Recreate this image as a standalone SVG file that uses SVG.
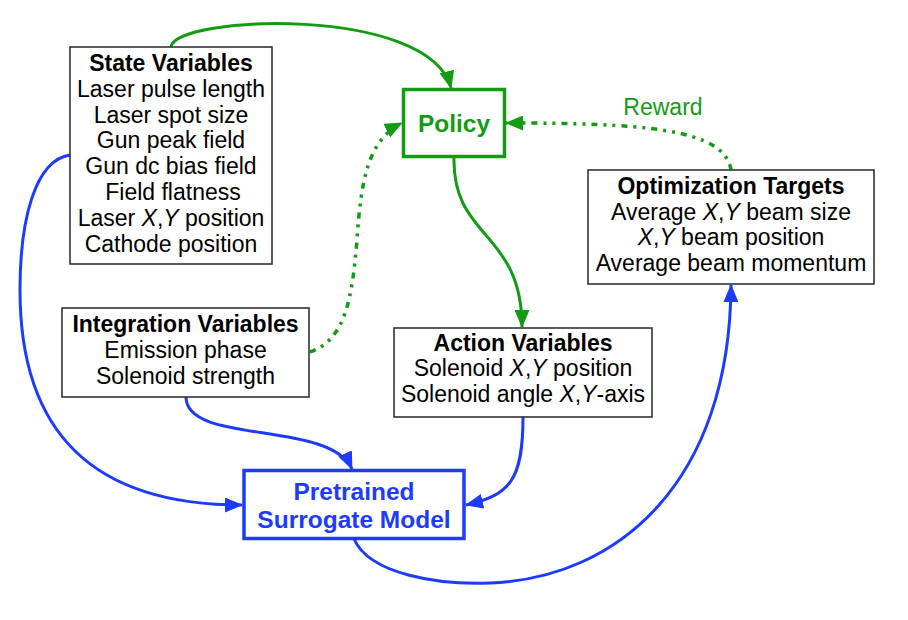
<svg xmlns="http://www.w3.org/2000/svg" width="908" height="620" viewBox="0 0 908 620">
<style>
text{font-family:"Liberation Sans",Arial,sans-serif;font-size:23px;fill:#000;text-anchor:middle}
.t{font-weight:bold}
.i{font-style:italic}
.box{fill:#fff;stroke:#333;stroke-width:1.6}
.g{fill:none;stroke:#139c13;stroke-width:3}
.b{fill:none;stroke:#1c3bff;stroke-width:3}
.dot{stroke-dasharray:6 6 3 6 3 6;stroke-width:3.5}
</style>
<defs>
<marker id="ag" markerUnits="userSpaceOnUse" markerWidth="18" markerHeight="15" viewBox="0 0 18 15" refX="17" refY="7.5" orient="auto"><path d="M0,0 L18,7.5 L0,15 z" fill="#139c13"/></marker>
<marker id="ab" markerUnits="userSpaceOnUse" markerWidth="18" markerHeight="15" viewBox="0 0 18 15" refX="17" refY="7.5" orient="auto"><path d="M0,0 L18,7.5 L0,15 z" fill="#1c3bff"/></marker>
</defs>
<rect width="908" height="620" fill="#fff"/>
<g id="connectors">
<path class="g" d="M171,47 C175,15 430,5 451,88" marker-end="url(#ag)"/>
<path class="g dot" d="M310,352 C345,340 352,300 357,240 C361,180 368,140 402,123" marker-end="url(#ag)"/>
<path class="g dot" d="M731,170 C725,128 640,123 506,123" marker-end="url(#ag)"/>
<path class="g" d="M454,157 C452,240 522,230 522,327" marker-end="url(#ag)"/>
<path class="b" d="M70,155 C35,160 20,220 20,290 C20,430 90,505 242,505" marker-end="url(#ab)"/>
<path class="b" d="M186,397 C186,445 330,420 352,469" marker-end="url(#ab)"/>
<path class="b" d="M523,417 C523,480 510,495 466,505" marker-end="url(#ab)"/>
<path class="b" d="M354,539 C370,575 440,585 490,583 C620,578 730,480 731,285" marker-end="url(#ab)"/>
<text x="663" y="115" style="fill:#139c13">Reward</text>
</g>
<g id="state">
<rect class="box" x="70" y="47" width="202" height="217"/>
<text class="t" x="171" y="71">State Variables</text>
<text x="171" y="97">Laser pulse length</text>
<text x="171" y="123">Laser spot size</text>
<text x="171" y="148">Gun peak field</text>
<text x="171" y="174">Gun dc bias field</text>
<text x="173" y="200">Field flatness</text>
<text x="171" y="226">Laser <tspan class="i">X</tspan>,<tspan class="i">Y</tspan> position</text>
<text x="171" y="252">Cathode position</text>
</g>
<g id="policy">
<rect x="403.5" y="89.5" width="101" height="67" fill="#fff" stroke="#139c13" stroke-width="3.5"/>
<text class="t" x="454" y="132" style="font-size:24.5px;fill:#139c13">Policy</text>
</g>
<g id="targets">
<rect class="box" x="588" y="170" width="286" height="114"/>
<text class="t" x="731" y="194">Optimization Targets</text>
<text x="731" y="219.5">Average <tspan class="i">X</tspan>,<tspan class="i">Y</tspan> beam size</text>
<text x="731" y="245"><tspan class="i">X</tspan>,<tspan class="i">Y</tspan> beam position</text>
<text x="731" y="271">Average beam momentum</text>
</g>
<g id="integration">
<rect class="box" x="62" y="308" width="247" height="89"/>
<text class="t" x="185.5" y="332">Integration Variables</text>
<text x="185.5" y="358">Emission phase</text>
<text x="185.5" y="383.5">Solenoid strength</text>
</g>
<g id="action">
<rect class="box" x="394" y="328" width="258" height="89"/>
<text class="t" x="523" y="351">Action Variables</text>
<text x="523" y="376">Solenoid <tspan class="i">X</tspan>,<tspan class="i">Y</tspan> position</text>
<text x="523" y="402">Solenoid angle <tspan class="i">X</tspan>,<tspan class="i">Y</tspan>-axis</text>
</g>
<g id="surrogate">
<rect x="244" y="470.5" width="220" height="68" fill="#fff" stroke="#1c3bff" stroke-width="3.5"/>
<text class="t" x="354" y="500" style="font-size:24.5px;fill:#1c3bff">Pretrained</text>
<text class="t" x="354" y="528" style="font-size:24.5px;fill:#1c3bff">Surrogate Model</text>
</g>
</svg>
